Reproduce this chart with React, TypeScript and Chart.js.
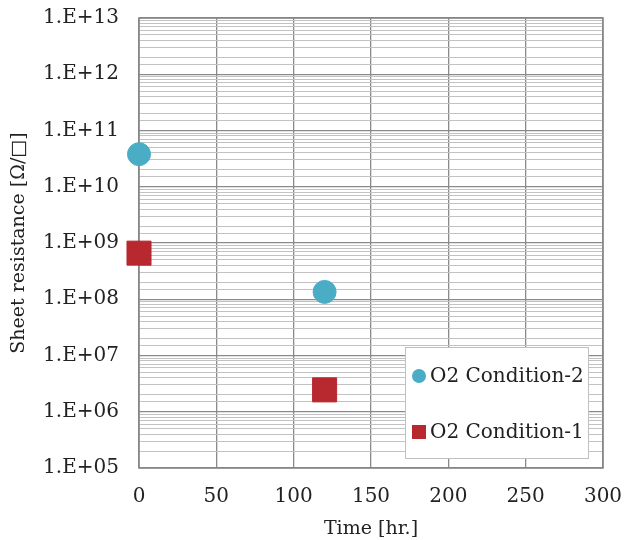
import React, { useEffect, useRef } from "react";
import { Chart, registerables } from "chart.js";

Chart.register(...registerables);

const seriesNames = ["O2 Condition-2", "O2 Condition-1"];
const cond2Time = [0, 120];
const cond2Resistance = [3.8e10, 1.35e8];
const cond1Time = [0, 120];
const cond1Resistance = [6.6e8, 2.45e6];
const yMin = 1e5;
const yMax = 1e13;
const xTicks = [0, 50, 100, 150, 200, 250, 300];

const FONT = "'DejaVu Serif', 'Liberation Serif', serif";
const BLUE = "#4BACC6";
const RED = "#B8282F";

function isMajor(v: number) {
  const l = Math.log10(v);
  return Math.abs(l - Math.round(l)) < 1e-9;
}

const frameAndLegend = {
  id: "frameAndLegend",
  beforeDatasetsDraw(chart: any) {
    const { ctx, chartArea } = chart;
    const { left, right, top, bottom } = chartArea;
    ctx.save();
    ctx.strokeStyle = "#858585";
    ctx.lineWidth = 1.5;
    ctx.strokeRect(left, top, right - left, bottom - top);
    ctx.restore();
  },
  afterDraw(chart: any) {
    const { ctx, chartArea } = chart;
    const { right, bottom } = chartArea;
    ctx.save();
    const w = 183;
    const h = 111;
    const lx = right - 15 - w;
    const ly = bottom - 10 - h;
    ctx.fillStyle = "#ffffff";
    ctx.fillRect(lx, ly, w, h);
    ctx.strokeStyle = "#c0c0c0";
    ctx.lineWidth = 1;
    ctx.strokeRect(lx + 0.5, ly + 0.5, w, h);
    ctx.font = `20px ${FONT}`;
    ctx.textBaseline = "middle";
    const items = chart.data.datasets;
    items.forEach((ds: any, i: number) => {
      const cy = ly + 29 + i * 56;
      const cx = lx + 14;
      ctx.fillStyle = ds.backgroundColor;
      if (ds.pointStyle === "rect") {
        ctx.fillRect(cx - 7, cy - 7, 14, 14);
      } else {
        ctx.beginPath();
        ctx.arc(cx, cy, 7, 0, Math.PI * 2);
        ctx.fill();
      }
      ctx.fillStyle = "#222";
      ctx.fillText(ds.label, cx + 11, cy + 1);
    });
    ctx.restore();
  },
};

export default function App() {
  const ref = useRef<HTMLCanvasElement>(null);
  useEffect(() => {
    if (!ref.current) return;
    const chart = new Chart(ref.current, {
      type: "scatter",
      data: {
        datasets: [
          {
            label: seriesNames[0],
            data: cond2Time.map((x, i) => ({ x, y: cond2Resistance[i] })),
            backgroundColor: BLUE,
            borderColor: BLUE,
            pointStyle: "circle",
            pointRadius: 11.5,
            pointHoverRadius: 11.5,
            clip: false,
          },
          {
            label: seriesNames[1],
            data: cond1Time.map((x, i) => ({ x, y: cond1Resistance[i] })),
            backgroundColor: RED,
            borderColor: RED,
            pointStyle: "rect",
            pointRadius: 17,
            pointHoverRadius: 17,
            clip: false,
          },
        ],
      },
      plugins: [frameAndLegend],
      options: {
        animation: false,
        responsive: false,
        layout: { padding: { left: 0, right: 21, top: 18, bottom: 0 } },
        plugins: {
          legend: { display: false },
          tooltip: { enabled: false },
        },
        scales: {
          x: {
            type: "linear",
            min: 0,
            max: 300,
            afterBuildTicks: (axis: any) => {
              axis.ticks = xTicks.map((v) => ({ value: v }));
            },
            ticks: {
              font: { family: FONT, size: 20 },
              color: "#222",
              padding: 17,
            },
            grid: { color: "#8a8a8a", lineWidth: 1.3, drawTicks: false },
            border: { display: false },
            title: {
              display: true,
              text: "Time [hr.]",
              font: { family: FONT, size: 19 },
              color: "#222",
              padding: { top: 2, bottom: 0 },
            },
            afterFit: (axis: any) => {
              axis.height = 72;
              axis.paddingLeft = 0;
              axis.paddingRight = 0;
            },
          },
          y: {
            type: "logarithmic",
            min: yMin,
            max: yMax,
            ticks: {
              autoSkip: false,
              font: { family: FONT, size: 20 },
              color: "#222",
              padding: 20,
              callback: (v: any) => {
                const n = Number(v);
                if (!isMajor(n)) return "";
                return "1.E+" + String(Math.round(Math.log10(n))).padStart(2, "0");
              },
            },
            grid: {
              drawTicks: false,
              color: (c: any) => (c.tick && isMajor(c.tick.value) ? "#8a8a8a" : "#c2c2c2"),
              lineWidth: (c: any) => (c.tick && isMajor(c.tick.value) ? 1.3 : 1),
            },
            border: { display: false },
            title: {
              display: true,
              text: "Sheet resistance [Ω/□]",
              font: { family: FONT, size: 19 },
              color: "#222",
              padding: { top: 8, bottom: 0 },
            },
            afterFit: (axis: any) => {
              axis.width = 139;
              axis.paddingTop = 0;
              axis.paddingBottom = 0;
            },
          },
        },
      },
    });
    return () => chart.destroy();
  }, []);
  return (
    <div style={{ position: "fixed", left: 0, top: 0, width: 624, height: 540, background: "#fff" }}>
      <canvas ref={ref} width={624} height={540} />
    </div>
  );
}
